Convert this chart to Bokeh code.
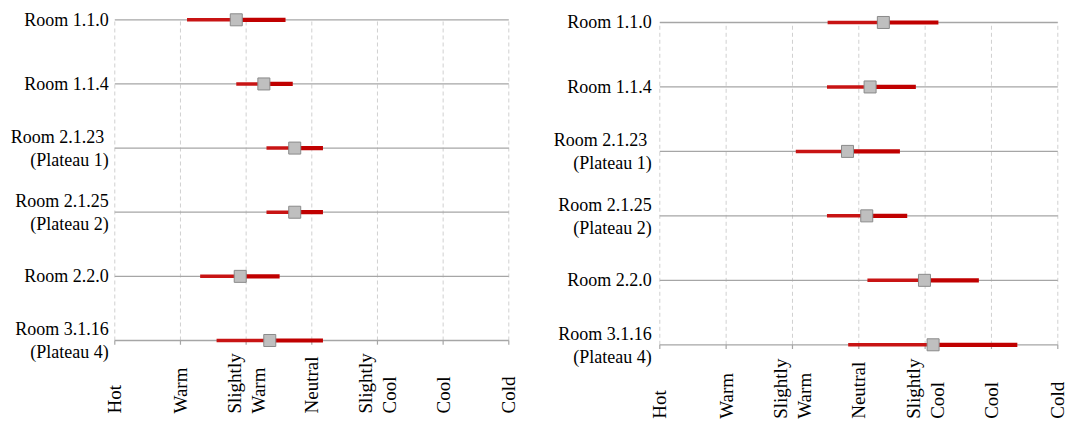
import math
from bokeh.plotting import figure
from bokeh.layouts import row
from bokeh.models import Range1d, ColumnDataSource, LabelSet
from bokeh.core.properties import value
from bokeh.embed import file_html
from bokeh.resources import INLINE

# ---------------- data ----------------
rooms = ["Room 1.1.0", "Room 1.1.4", "Room  2.1.23\n(Plateau 1)",
         "Room 2.1.25\n(Plateau 2)", "Room 2.2.0", "Room 3.1.16\n(Plateau 4)"]
scale_values = [3, 2, 1, 0, -1, -2, -3]
scale_labels = ["Hot", "Warm", "Slightly\nWarm", "Neutral", "Slightly\nCool", "Cool", "Cold"]

# left panel (thermal sensation: +3 Hot ... -3 Cold)
mean_a = [1.15, 0.73, 0.26, 0.26, 1.09, 0.64]
warm_a = [1.90, 1.15, 0.69, 0.69, 1.70, 1.45]
cool_a = [0.40, 0.29, -0.17, -0.17, 0.49, -0.17]

# right panel
mean_b = [-0.37, -0.17, 0.17, -0.12, -0.99, -1.12]
warm_b = [0.47, 0.48, 0.95, 0.48, -0.13, 0.16]
cool_b = [-1.20, -0.86, -0.62, -0.73, -1.81, -2.39]

FONT = "Liberation Serif"
ROW_GREY = "#a6a6a6"
GRID_GREY = "#d0d0d0"
H = 421


def make_panel(mean, warm, cool, width, x_range, y_range, ylab_offset, xlab_y):
    n = len(rooms)
    ys = list(range(n, 0, -1))
    p = figure(frame_width=width, frame_height=H,
               x_range=Range1d(*x_range), y_range=Range1d(*y_range),
               output_backend="svg", toolbar_location=None,
               min_border_left=0, min_border_right=0,
               min_border_top=0, min_border_bottom=0)
    p.outline_line_color = None
    p.grid.visible = False
    p.axis.visible = False

    # vertical dashed grid lines at each scale value
    p.segment(x0=scale_values, y0=[1] * len(scale_values), x1=scale_values,
              y1=[n] * len(scale_values), line_color=GRID_GREY, line_width=1,
              line_dash="4 3")
    # horizontal row lines
    p.segment(x0=[3] * n, y0=ys, x1=[-3] * n, y1=ys, line_color=ROW_GREY, line_width=1.3)
    # small tick marks below the bottom row (axis)
    p.segment(x0=scale_values, y0=[1] * len(scale_values), x1=scale_values,
              y1=[1 - 0.065] * len(scale_values), line_color=ROW_GREY, line_width=1.2)

    # ranges: warm side and cool side
    p.segment(x0=warm, y0=ys, x1=mean, y1=ys, line_color="#c81414", line_width=3.5)
    p.segment(x0=mean, y0=ys, x1=cool, y1=ys, line_color="#c00000", line_width=4.2)
    # mean markers
    p.scatter(x=mean, y=ys, marker="square", size=12, fill_color="#bfbfbf",
              line_color="#8a8a8a", line_width=1)

    # room labels (category axis), each line right-aligned
    lx, ly, lt, loff = [], [], [], []
    for y, r in zip(ys, rooms):
        parts = r.split("\n")
        if len(parts) == 1:
            offs = [0]
        else:
            offs = [11, -12]
        for part, o in zip(parts, offs):
            lx.append(3)
            ly.append(y)
            lt.append(part)
            loff.append(o)
    rsrc = ColumnDataSource(dict(x=lx, y=ly, text=lt, yo=loff))
    p.add_layout(LabelSet(x="x", y="y", text="text", source=rsrc, x_offset=ylab_offset,
                          y_offset="yo", text_align="right", text_baseline="middle",
                          text_font=value(FONT), text_font_size="18px",
                          text_color="#000000"))

    # rotated scale labels along the bottom
    src = ColumnDataSource(dict(x=scale_values, y=[xlab_y] * len(scale_values),
                                text=scale_labels))
    p.add_layout(LabelSet(x="x", y="y", text="text", source=src, angle=math.pi / 2,
                          text_align="left", text_baseline="middle",
                          text_font=value(FONT), text_font_size="19px",
                          text_color="#000000", text_line_height=1.15))
    return p


p1 = make_panel(mean_a, warm_a, cool_a, width=540,
                x_range=(4.7405, -3.4827), y_range=(-0.2629, 6.301),
                ylab_offset=-6, xlab_y=1 - 73 / 64.14)
p2 = make_panel(mean_b, warm_b, cool_b, width=545,
                x_range=(4.7986, -3.4176), y_range=(-0.190, 6.341),
                ylab_offset=-8, xlab_y=1 - 74 / 64.46)

layout = row(p1, p2)
open("out.html", "w").write(file_html(layout, INLINE))
